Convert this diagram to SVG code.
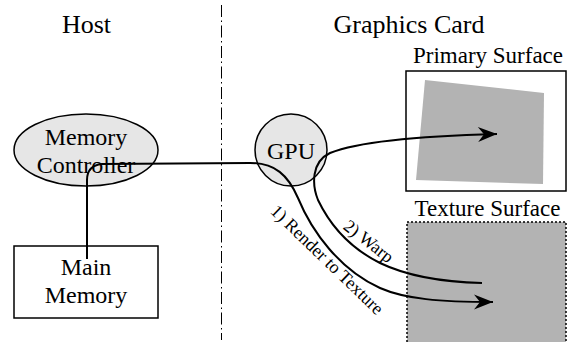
<svg xmlns="http://www.w3.org/2000/svg" width="570" height="342" viewBox="0 0 570 342" font-family="'Liberation Serif', 'DejaVu Serif', serif">
  <style>
    text { fill: #000; }
    .hdr { font-size: 26px; text-anchor: middle; }
    .lbl { font-size: 24px; text-anchor: middle; }
    .sfc { font-size: 23px; text-anchor: middle; }
    .edge-lbl { font-size: 18px; text-anchor: middle; }
    .node { fill: #e6e6e6; stroke: #000; stroke-width: 1.5; }
    .box { fill: #fff; stroke: #000; stroke-width: 1.5; }
    .wire { fill: none; stroke: #000; stroke-width: 2; }
    .divider { stroke: #000; stroke-width: 1; stroke-dasharray: 12 3.5 1.5 3.5; }
  </style>
  <defs>
    <marker id="head" markerUnits="userSpaceOnUse" markerWidth="22" markerHeight="18" viewBox="-20 -9 22 18" refX="0" refY="0" orient="auto">
      <path d="M0,0 L-19,-7.5 L-13,0 L-19,7.5 Z" fill="#000"/>
    </marker>
  </defs>

  <rect width="570" height="342" fill="#fff"/>

  <!-- host / card split -->
  <line class="divider" x1="221.5" y1="5" x2="221.5" y2="340"/>
  <text class="hdr" x="86.5" y="33" font-family="Liberation Serif">Host</text>
  <text class="hdr" x="409" y="33" font-family="Liberation Serif">Graphics Card</text>

  <g id="primary-surface">
    <text class="sfc" x="488" y="63" font-family="Liberation Serif">Primary Surface</text>
    <rect class="box" x="406" y="71" width="160" height="120"/>
    <polygon points="425,80 544,93 543,184 416,180" fill="#b3b3b3"/>
  </g>

  <g id="texture-surface">
    <text class="sfc" x="487.5" y="216" font-family="Liberation Serif">Texture Surface</text>
    <rect x="407" y="222" width="159" height="125" fill="#b3b3b3" stroke="#000" stroke-width="1.5" stroke-dasharray="2 2"/>
  </g>

  <g id="memory-controller">
    <ellipse class="node" cx="86" cy="150" rx="72" ry="36"/>
    <text class="lbl" x="86" y="145" font-family="Liberation Serif">Memory</text>
    <text class="lbl" x="86" y="173" font-family="Liberation Serif">Controller</text>
  </g>

  <g id="main-memory">
    <rect class="box" x="14" y="246" width="144" height="72"/>
    <text class="lbl" x="86" y="275" font-family="Liberation Serif">Main</text>
    <text class="lbl" x="86" y="303" font-family="Liberation Serif">Memory</text>
  </g>

  <g id="gpu">
    <circle class="node" cx="291" cy="150" r="36"/>
    <text class="lbl" x="291" y="159" font-family="Liberation Serif">GPU</text>
  </g>

  <g id="connectors">
    <!-- 1) render: main memory -> controller -> GPU -> texture -->
    <path class="wire" marker-end="url(#head)" d="M87,259 V180 C87,170 92,165 102,164 L250,163 C275,163 288,175 298,198 C312,232 340,270 380,288 C405,299 440,302 493,302"/>
    <!-- 2) warp: texture -> GPU -> primary -->
    <path class="wire" marker-end="url(#head)" d="M482,283 C440,282 405,275 380,263 C350,248 330,225 318,200 C312,185 311,162 330,153 C360,141 420,136 497,134"/>
    <text class="edge-lbl" transform="translate(323,264) rotate(44)" font-family="Liberation Serif">1) Render to Texture</text>
    <text class="edge-lbl" transform="translate(365,246) rotate(38)" font-family="Liberation Serif">2) Warp</text>
  </g>
</svg>
